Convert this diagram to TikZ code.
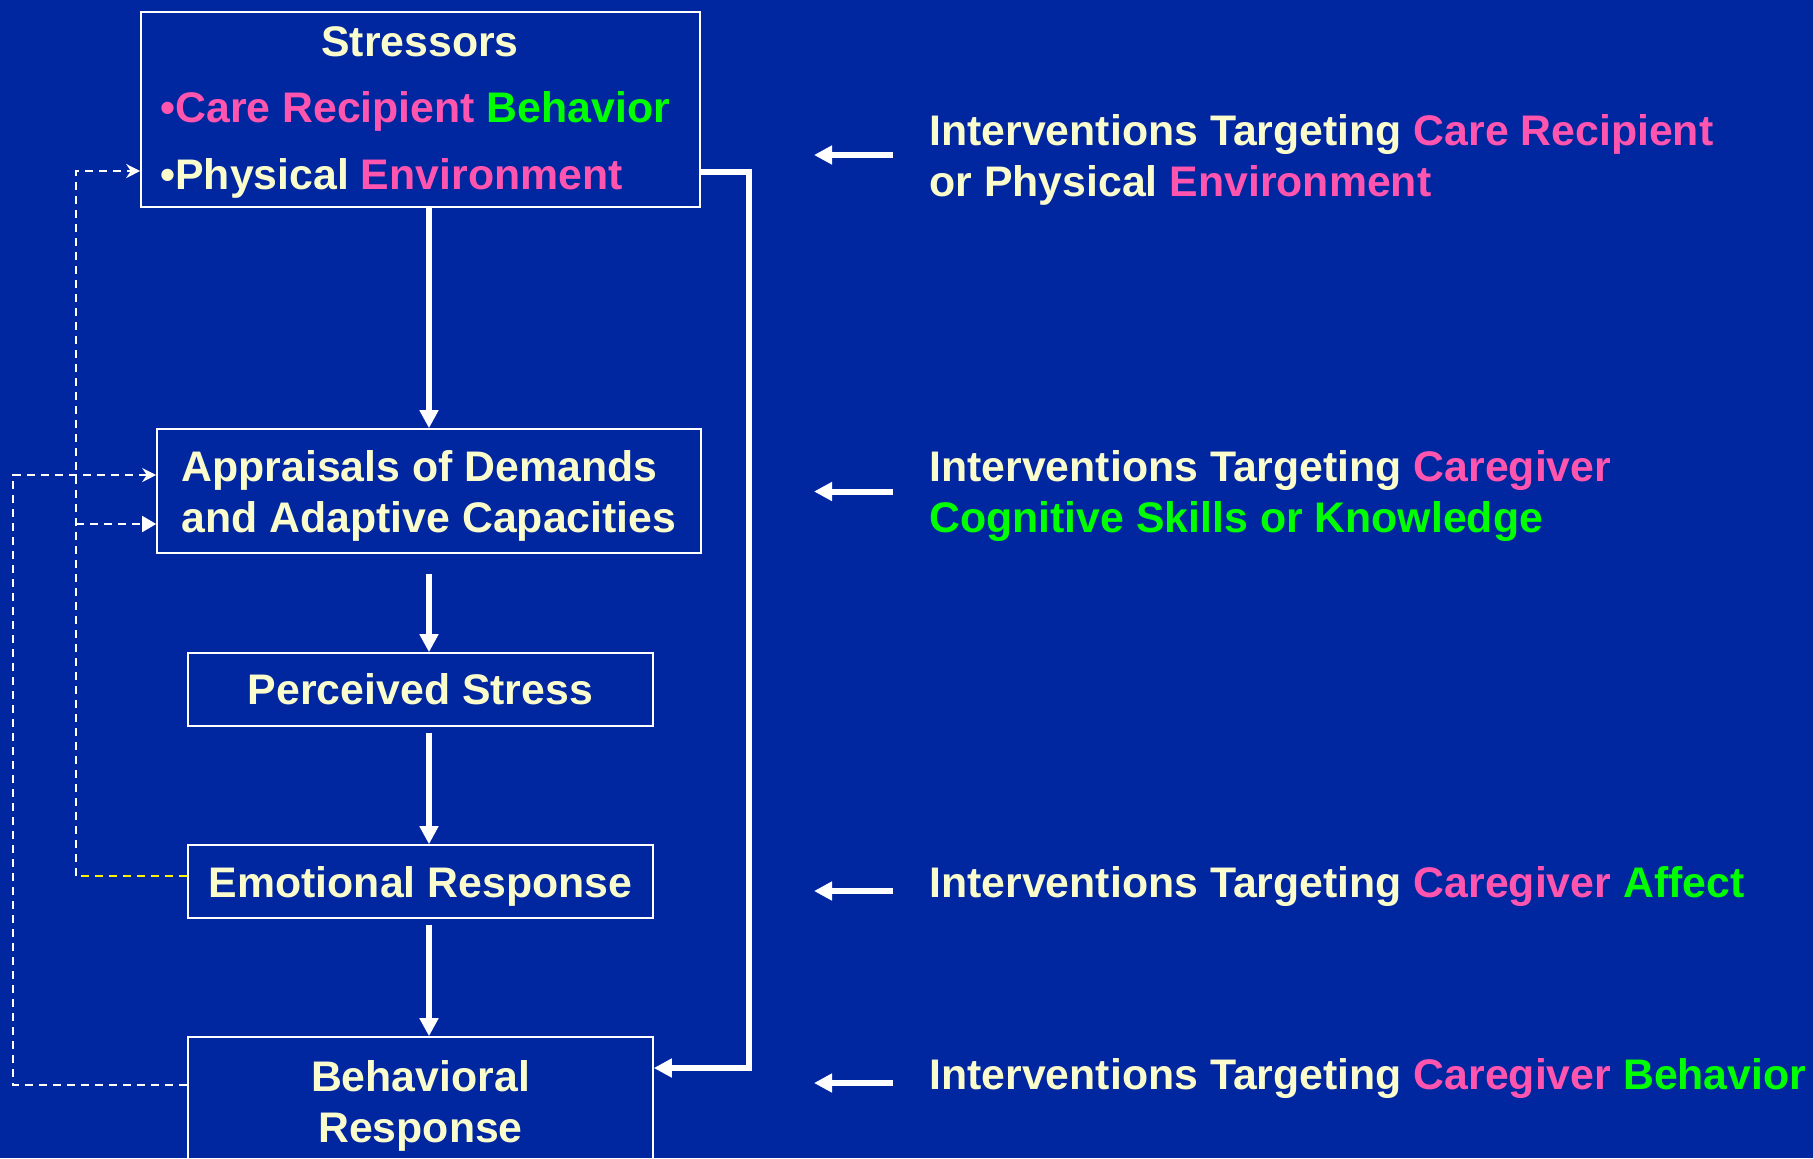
\documentclass[tikz,border=0pt]{standalone}
\usepackage{fontspec}
\setmainfont{Liberation Sans}
\usetikzlibrary{calc,positioning,arrows.meta}
\definecolor{SlideBlue}{RGB}{0,38,160}
\definecolor{Cream}{RGB}{250,252,204}
\definecolor{Pink}{RGB}{255,85,175}
\definecolor{Lime}{RGB}{0,255,0}

\begin{document}
\begin{tikzpicture}[x=0.5pt,y=-0.5pt,font=\fontsize{21.4}{25.5}\selectfont\bfseries]
\tikzstyle{box} = [rectangle, draw=white, line width=0.8pt, text=Cream, inner sep=0pt, align=center]
\tikzstyle{intervention} = [text=Cream, anchor=west, align=left, inner sep=0pt]
\tikzstyle{arrow} = [white, line width=3pt, -{Triangle[length=9pt,width=9pt]}]
\tikzstyle{feedback} = [white, line width=0.8pt, dash pattern=on 4pt off 3pt]

\useasboundingbox (0,0) rectangle (1813,1158);
\fill [SlideBlue] (0,0) rectangle (1813,1158);
\clip (0,0) rectangle (1813,1158);

% left column: stress process
\node (stressors) [box, minimum width=279.5pt, minimum height=97.5pt] at (420.5,109.5) {};
\node (stresstitle) [text=Cream, inner sep=0pt] at (420,42) {Stressors};
\node (recipient) [intervention] at (160,111.5) {\textcolor{Pink}{•Care Recipient} \textcolor{Lime}{Behavior}};
\node (physical) [intervention] at (160,178.5) {•Physical \textcolor{Pink}{Environment}};
\node (appraisals) [box, align=left, text depth=0pt, minimum width=272pt, minimum height=62pt] at (429,491) {Appraisals of Demands\\and Adaptive Capacities};
\node (perceived) [box, minimum width=232.5pt, minimum height=36.5pt] at (420.5,689.5) {Perceived Stress};
\node (emotional) [box, text depth=0pt, minimum width=232.5pt, minimum height=36.5pt] at (420.5,881.5) {Emotional Response};
\node (behavioral) [box, minimum width=232.5pt, minimum height=69pt] at (420.5,1106) {Behavioral\\Response};

% right column: interventions
\node (careenv) [intervention] at (929,159.6) {Interventions Targeting \textcolor{Pink}{Care Recipient}\\or Physical \textcolor{Pink}{Environment}};
\node (cognitive) [intervention] at (929,496.1) {Interventions Targeting \textcolor{Pink}{Caregiver}\\\textcolor{Lime}{Cognitive Skills or Knowledge}};
\node (affect) [intervention] at (929,886.6) {Interventions Targeting \textcolor{Pink}{Caregiver} \textcolor{Lime}{Affect}};
\node (behavior) [intervention] at (929,1078.6) {Interventions Targeting \textcolor{Pink}{Caregiver} \textcolor{Lime}{Behavior}};

\draw [arrow] (stressors.south -| appraisals) -- (appraisals.north);
\draw [arrow] ([yshift=-10pt]appraisals.south) -- (appraisals.south |- perceived.north);
\draw [arrow] ([yshift=-3pt]perceived.south -| appraisals) -- (appraisals.south |- emotional.north);
\draw [arrow] ([yshift=-3pt]emotional.south -| appraisals) -- (appraisals.south |- behavioral.north);
\draw [arrow, line width=2.6pt] (stressors.east |- 0,172) -- (749,172) |- (behavioral.east |- 0,1068);

\draw [arrow] ([xshift=-18pt,yshift=2.3pt]careenv.west) -- ++(-79,0);
\draw [arrow] ([xshift=-18pt,yshift=2.3pt]cognitive.west) -- ++(-79,0);
\draw [arrow] ([xshift=-18pt,yshift=-2.2pt]affect.west) -- ++(-79,0);
\draw [arrow] ([xshift=-18pt,yshift=-2.2pt]behavior.west) -- ++(-79,0);

% feedback loops
\coordinate (emofork) at (76,876);
\coordinate (behfork) at (13,1085);
\draw [feedback, draw=yellow] (emotional.west |- emofork) -- (emofork);
\draw [feedback, -{Stealth[length=7pt,width=7pt]}] (emofork) |- (stressors.west |- 0,171);
\draw [feedback, -{Triangle[length=7pt,width=8pt]}] (emofork |- 0,524) -- (appraisals.west |- 0,524);
\draw [feedback, -{Stealth[length=7pt,width=7pt]}] (behavioral.west |- behfork) -- (behfork) |- (appraisals.west |- 0,475);
\end{tikzpicture}
\end{document}
